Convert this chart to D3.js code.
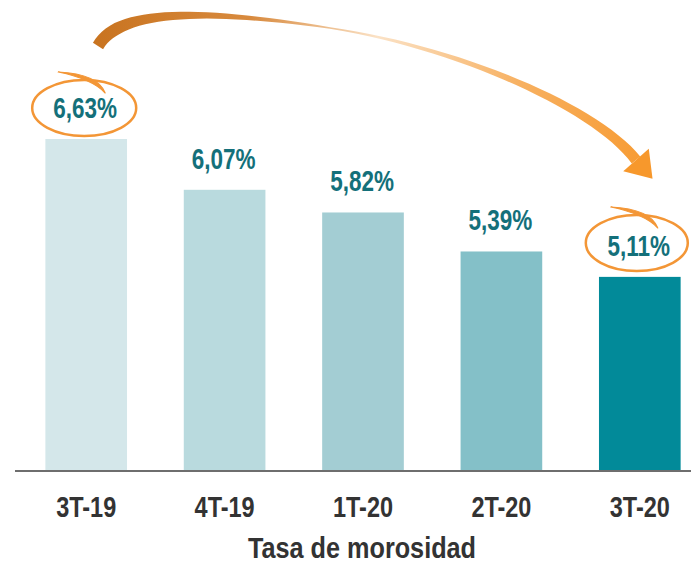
<!DOCTYPE html>
<html>
<head>
<meta charset="utf-8">
<script src="https://cdn.jsdelivr.net/npm/d3@7"></script>
<style>
  body { margin: 0; background: #fff; }
  svg text { font-family: "Liberation Sans", Arial, sans-serif; font-weight: bold; }
</style>
</head>
<body>
<div id="chart"></div>
<script>
var w = 691,
    h = 565;

// data
var periods = ["3T-19", "4T-19", "1T-20", "2T-20", "3T-20"];
var rates = [6.63, 6.07, 5.82, 5.39, 5.11];
var labels = ["6,63%", "6,07%", "5,82%", "5,39%", "5,11%"];
var barColors = ["#d4e7ea", "#b9dade", "#a3cdd3", "#84c0c8", "#028a99"];
var title = "Tasa de morosidad";

var baseY = 471;

var svg = d3.select("#chart")
  .append("svg")
  .attr("width", w)
  .attr("height", h);

var x = d3.scaleBand()
  .domain(periods)
  .range([17, 709])
  .paddingInner(0.41)
  .paddingOuter(0.205);

var y = d3.scaleLinear()
  .domain([2.97, 6.63])
  .range([baseY, 139]);

var data = periods.map(function(p, i) {
  return { period: p, rate: rates[i], label: labels[i], color: barColors[i] };
});

function cx(d) { return x(d.period) + x.bandwidth() / 2; }

// bars
svg.selectAll(".bar")
  .data(data)
  .enter()
  .append("rect")
  .attr("class", "bar")
  .attr("x", function(d) { return x(d.period); })
  .attr("y", function(d) { return y(d.rate); })
  .attr("width", x.bandwidth())
  .attr("height", function(d) { return baseY - y(d.rate); })
  .attr("fill", function(d) { return d.color; });

// baseline
svg.append("line")
  .attr("x1", 15).attr("x2", w)
  .attr("y1", baseY).attr("y2", baseY)
  .attr("stroke", "#6e6e6e")
  .attr("stroke-width", 2);

// value labels (condensed look by horizontal scaling)
svg.selectAll(".val")
  .data(data)
  .enter()
  .append("text")
  .attr("class", "val")
  .attr("transform", function(d) {
    return "translate(" + (cx(d) - 1) + "," + (y(d.rate) - 21) + ") scale(0.75,1)";
  })
  .attr("text-anchor", "middle")
  .attr("font-size", "30px")
  .attr("fill", "#14707a")
  .text(function(d) { return d.label; });

// x axis
var axis = svg.append("g")
  .attr("transform", "translate(0," + baseY + ")")
  .call(d3.axisBottom(x).tickSize(0).tickPadding(25));
axis.select(".domain").remove();
axis.selectAll("text")
  .attr("font-size", "29px")
  .attr("fill", "#333333")
  .attr("transform", "scale(0.81,1)")
  .style("font-family", null);

svg.append("text")
  .attr("transform", "translate(362,558) scale(0.87,1)")
  .attr("text-anchor", "middle")
  .attr("font-size", "29px")
  .attr("fill", "#333333")
  .text(title);

// highlight ellipses (first and last)
var rings = [
  { i: 0, dx: -2, cy: 108, rx: 52, ry: 28 },
  { i: 4, dx: -3, cy: 243, rx: 51, ry: 28 }
];
rings.forEach(function(r) {
  var ex = cx(data[r.i]) + r.dx;
  var top = r.cy - r.ry;
  svg.append("ellipse")
    .attr("cx", ex)
    .attr("cy", r.cy)
    .attr("rx", r.rx)
    .attr("ry", r.ry)
    .attr("fill", "none")
    .attr("stroke", "#f39636")
    .attr("stroke-width", 2.5);
  // hand-drawn overlap stroke on top
  var sx = ex - 26, sy = top - 8;
  var exx = ex + 21, ey = top + 13;
  svg.append("path")
    .attr("d", "M" + sx + "," + sy +
      " Q" + (ex + 14) + "," + (top - 6) + " " + exx + "," + ey +
      " Q" + (ex + 8) + "," + (top - 1) + " " + sx + "," + sy + "Z")
    .attr("fill", "#f39636")
    .attr("stroke", "#f39636")
    .attr("stroke-width", 1.2)
    .attr("stroke-linejoin", "round");
});

// curved arrow
var defs = svg.append("defs");
var grad = defs.append("linearGradient")
  .attr("id", "arrowGrad")
  .attr("gradientUnits", "userSpaceOnUse")
  .attr("x1", 90).attr("y1", 0).attr("x2", 665).attr("y2", 0);
[["0", "#c8731f"], ["0.28", "#d88a3e"], ["0.5", "#fbe2c6"], ["0.75", "#f7b060"], ["1", "#f7982c"]]
  .forEach(function(s) {
    grad.append("stop").attr("offset", s[0]).attr("stop-color", s[1]);
  });

function bez(p0, p1, p2, p3, t) {
  var u = 1 - t;
  return [
    u*u*u*p0[0] + 3*u*u*t*p1[0] + 3*u*t*t*p2[0] + t*t*t*p3[0],
    u*u*u*p0[1] + 3*u*u*t*p1[1] + 3*u*t*t*p2[1] + t*t*t*p3[1]
  ];
}
var segA = [[98, 46], [118, 10], [200, 8], [330, 28]];
var segB = [[330, 28], [460, 48], [596, 108], [636, 160]];
var pts = [];
for (var k = 0; k <= 60; k++) {
  var s = k / 60;
  pts.push(s < 0.5 ? bez(segA[0], segA[1], segA[2], segA[3], s * 2)
                   : bez(segB[0], segB[1], segB[2], segB[3], (s - 0.5) * 2));
}
function widthAt(s) {
  if (s < 0.1) return 12;
  if (s < 0.5) return 12 - (s - 0.1) / 0.4 * 10.5;
  return 1.5 + (s - 0.5) / 0.5 * 9.5;
}
var left = [], right = [];
pts.forEach(function(p, k) {
  var a = pts[Math.max(k - 1, 0)], b = pts[Math.min(k + 1, pts.length - 1)];
  var tx = b[0] - a[0], ty = b[1] - a[1], len = Math.sqrt(tx*tx + ty*ty);
  var nx = -ty / len, ny = tx / len, hw = widthAt(k / 60) / 2;
  left.push([p[0] + nx*hw, p[1] + ny*hw]);
  right.push([p[0] - nx*hw, p[1] - ny*hw]);
});
var body = left.concat(right.reverse());
svg.append("path")
  .attr("d", d3.line()(body) + "Z")
  .attr("fill", "url(#arrowGrad)");

// arrow head
var end = pts[pts.length - 1], prev = pts[pts.length - 3];
var tx = end[0] - prev[0], ty = end[1] - prev[1], tl = Math.sqrt(tx*tx + ty*ty);
tx /= tl; ty /= tl;
var nx = -ty, ny = tx;
var head = [
  [end[0] + nx*17, end[1] + ny*17],
  [end[0] + tx*25, end[1] + ty*25],
  [end[0] - nx*17, end[1] - ny*17]
];
svg.append("path")
  .attr("d", d3.line()(head) + "Z")
  .attr("fill", "#f7982c");
</script>
</body>
</html>
